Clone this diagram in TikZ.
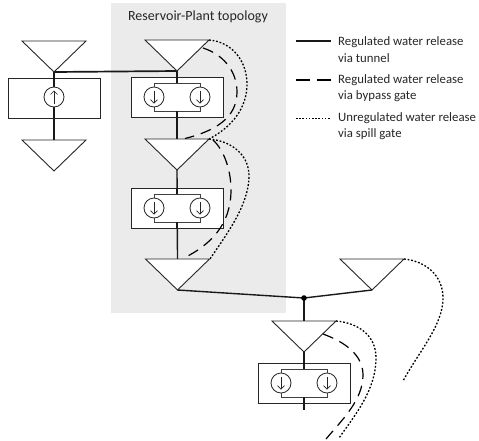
\documentclass[tikz,border=0pt]{standalone}
\usepackage{fontspec}
\setmainfont{Carlito}
\usetikzlibrary{arrows.meta}
\tikzset{
  tri/.style={draw=black!85,fill=white,line width=0.9pt,line join=miter},
  plantbox/.style={draw=black!85,fill=white,line width=0.9pt,rectangle,minimum width=92pt,minimum height=40pt,inner sep=0pt},
  innerbox/.style={draw=black!75,fill=white,line width=0.8pt,rectangle,minimum width=46pt,minimum height=28pt,inner sep=0pt},
  turbine/.style={draw=black!85,fill=white,line width=0.8pt,circle,minimum size=20pt,inner sep=0pt},
  tunnel/.style={draw=black!90,line width=1.4pt},
  link/.style={draw=black!90,line width=1.7pt},
  bypass/.style={draw=black,line width=1.2pt,dash pattern=on 11pt off 7pt},
  spill/.style={draw=black,line width=1.3pt,dash pattern=on 1.8pt off 1.8pt},
  flowarrow/.style={draw=black!85,line width=0.7pt,-{Straight Barb[length=3.5pt,width=7pt]}},
  lbl/.style={font=\fontsize{12.8pt}{14pt}\selectfont,anchor=west,inner sep=0pt,text=black!85},
}
\newcommand{\resv}[3]{%
  \coordinate (#1l) at (#2-32,#3-31);
  \coordinate (#1r) at (#2+32,#3-31);
  \coordinate (#1) at (#2,#3);
  \coordinate (#1t) at (#2,#3-31);}
\newcommand{\plant}[3]{%
  \node[plantbox] (#1) at (#2,#3) {};
  \node[innerbox] (#1i) at (#2,#3) {};
  \node[turbine] (#1a) at (#2-23,#3) {};
  \node[turbine] (#1b) at (#2+23,#3) {};
  \draw[flowarrow] ([yshift=6.5pt]#1a.center) -- ([yshift=-6.5pt]#1a.center);
  \draw[flowarrow] ([yshift=6.5pt]#1b.center) -- ([yshift=-6.5pt]#1b.center);}
\begin{document}
\begin{tikzpicture}[x=1pt,y=-1pt]
\useasboundingbox (0,0) rectangle (479,440);
\node[fill=black!8,draw=none,minimum width=175pt,minimum height=310pt,inner sep=0pt] (bg) at (198.5,158) {};
\node[font=\fontsize{14pt}{16pt}\selectfont,text=black!85,inner sep=0pt] (title) at (198,17) {Reservoir-Plant topology};

\resv{ra}{54}{72}
\resv{rb}{54}{171}
\resv{rc}{177}{71}
\resv{rd}{177}{170}
\resv{re}{177.5}{290}
\resv{rf}{372}{290}
\resv{rg}{304}{352}
\coordinate (jn) at (304,298);
\coordinate (endg) at (304,410);
\coordinate (endf) at (403,381);
\coordinate (endspill) at (339,438);
\coordinate (endby) at (326,439);

% tunnels
\draw[tunnel] (ra) -- (rbt);
\draw[tunnel] (rc) -- (rdt);
\draw[tunnel] (rd) -- (ret);
\draw[tunnel] (jn) -- (rgt);
\draw[tunnel] (rg) -- (endg);
\draw[link] (ra) -- (rc);
\draw[tunnel] (re) -- (jn) -- (rf);
\fill[black] (jn) circle (2.8pt);

% plants
\node[plantbox] (pa) at (54,98) {};
\draw[tunnel] (pa.north) -- (pa.south);
\node[turbine] (paa) at (54,97) {};
\draw[flowarrow] ([yshift=-6.5pt]paa.center) -- ([yshift=6.5pt]paa.center);
\plant{pb}{177}{97}
\plant{pc}{177}{208}
\plant{pd}{304}{383}
\draw[tunnel] (pb.north) -- (pbi.north);
\draw[tunnel] (pb.south) -- (pbi.south);
\draw[tunnel] (pc.north) -- (pci.north);
\draw[tunnel] (pc.south) -- (pci.south);
\draw[tunnel] (pd.north) -- (pdi.north);
\draw[tunnel] (pd.south) -- (pdi.south);

% reservoirs on top
\path[tri] (ral) -- (rar) -- (ra) -- cycle;
\path[tri] (rbl) -- (rbr) -- (rb) -- cycle;
\path[tri] (rcl) -- (rcr) -- (rc) -- cycle;
\path[tri] (rdl) -- (rdr) -- (rd) -- cycle;
\path[tri] (rel) -- (rer) -- (re) -- cycle;
\path[tri] (rfl) -- (rfr) -- (rf) -- cycle;
\path[tri] (rgl) -- (rgr) -- (rg) -- cycle;

% spill curves (dotted)
\draw[spill] (rcr) .. controls (233,42) and (247,62) .. (247,84) .. controls (247,108) and (232,127) .. (rdr);
\draw[spill] (rdr) .. controls (232,141) and (249,155) .. (249,176) .. controls (249,205) and (226,235) .. (210,259);
\draw[spill] (rgr) .. controls (358,323) and (376,335) .. (376,358) .. controls (376,390) and (355,415) .. (endspill);
\draw[spill] (rfr) .. controls (425,261) and (443,275) .. (443,298) .. controls (443,325) and (420,350) .. (endf);

% bypass curves (dashed)
\draw[bypass] (203,48) .. controls (222,54) and (237,70) .. (237,92) .. controls (237,118) and (215,131) .. (185,138.5);
\draw[bypass] (213,140) .. controls (224,150) and (231,170) .. (231,190) .. controls (231,225) and (210,245) .. (184,258);
\draw[bypass] (323,334) .. controls (345,342) and (363,355) .. (363,375) .. controls (363,400) and (342,420) .. (endby);

% legend
\coordinate (la) at (296,41); \coordinate (lb) at (331,41);
\coordinate (lc) at (296,80); \coordinate (ld) at (331,80);
\coordinate (le) at (296,118); \coordinate (lf) at (331,118);
\draw[tunnel] (la) -- (lb);
\draw[draw=black,line width=1.3pt,dash pattern=on 14pt off 7pt] (lc) -- (ld);
\draw[draw=black,line width=0.9pt,dash pattern=on 1.6pt off 1.6pt] (le) -- (lf);
\node[lbl] (t1) at (338,42) {Regulated water release};
\node[lbl] (t2) at (338,58) {via tunnel};
\node[lbl] (t3) at (338,80) {Regulated water release};
\node[lbl] (t4) at (338,96) {via bypass gate};
\node[lbl] (t5) at (338,118) {Unregulated water release};
\node[lbl] (t6) at (338,134) {via spill gate};
\end{tikzpicture}
\end{document}
